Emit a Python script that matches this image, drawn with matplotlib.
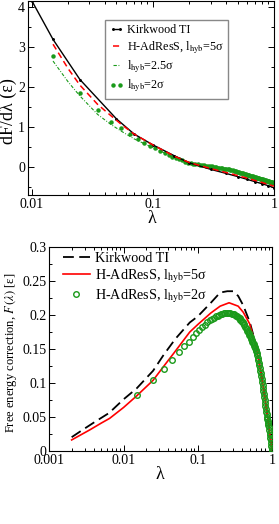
import matplotlib
matplotlib.use("Agg")
import matplotlib.pyplot as plt
from matplotlib.ticker import FixedLocator, FixedFormatter, LogLocator, NullFormatter, MultipleLocator

plt.rcParams['font.family'] = ['Liberation Serif', 'DejaVu Serif']
plt.rcParams['mathtext.fontset'] = 'stix'

# ---- top panel: dF/dlambda ----
lam_kw = [0.01, 0.015, 0.025, 0.05, 0.07, 0.1, 0.15, 0.2, 0.3, 0.4, 0.5, 0.6, 0.7, 0.8, 0.9, 1.0]
dfdl_kw = [4.15, 3.18, 2.18, 1.2, 0.82, 0.55, 0.28, 0.1, -0.06, -0.16, -0.24, -0.31, -0.37, -0.42, -0.47, -0.52]

lam_line = [0.015, 0.02, 0.025, 0.035, 0.045, 0.055, 0.07, 0.1, 0.15, 0.2, 0.3, 0.44, 0.6, 0.8, 1.0]
dfdl_5s = [3.06, 2.45, 2.04, 1.56, 1.28, 1.06, 0.82, 0.55, 0.27, 0.11, -0.04, -0.17, -0.28, -0.39, -0.48]
dfdl_25s = [2.64, 2.12, 1.77, 1.31, 1.06, 0.89, 0.70, 0.48, 0.24, 0.10, 0.01, -0.08, -0.19, -0.31, -0.42]

# lambda grid of the l_hyb = 2 sigma run (used in both panels)
lam_2s = [0.015, 0.025, 0.035, 0.045, 0.055, 0.065, 0.075, 0.085, 0.095, 0.105,
          0.115, 0.125, 0.135, 0.145, 0.155, 0.165, 0.175, 0.185, 0.195, 0.205,
          0.215, 0.225, 0.235, 0.245, 0.255, 0.265, 0.275, 0.285, 0.295, 0.305,
          0.315, 0.325, 0.335, 0.345, 0.355, 0.365, 0.375, 0.385, 0.395, 0.405,
          0.415, 0.425, 0.435, 0.445, 0.455, 0.465, 0.475, 0.485, 0.495, 0.505,
          0.515, 0.525, 0.535, 0.545, 0.555, 0.565, 0.575, 0.585, 0.595, 0.605,
          0.615, 0.625, 0.635, 0.645, 0.655, 0.665, 0.675, 0.685, 0.695, 0.705,
          0.715, 0.725, 0.735, 0.745, 0.755, 0.765, 0.775, 0.785, 0.795, 0.805,
          0.815, 0.825, 0.835, 0.845, 0.855, 0.865, 0.875, 0.885, 0.895, 0.905,
          0.915, 0.925, 0.935, 0.945, 0.955, 0.965, 0.975, 0.985, 0.995]

dfdl_2s = [2.77, 1.85, 1.42, 1.12, 0.96, 0.82, 0.69, 0.60, 0.53, 0.46,
           0.40, 0.34, 0.29, 0.25, 0.22, 0.19, 0.16, 0.135, 0.11, 0.095,
           0.083, 0.072, 0.062, 0.053, 0.045, 0.037, 0.030, 0.023, 0.017, 0.011,
           0.004, -0.002, -0.008, -0.015, -0.021, -0.027, -0.033, -0.040, -0.046, -0.052,
           -0.058, -0.064, -0.070, -0.076, -0.082, -0.091, -0.099, -0.108, -0.116, -0.124,
           -0.132, -0.140, -0.147, -0.155, -0.162, -0.169, -0.177, -0.184, -0.190, -0.197,
           -0.204, -0.210, -0.217, -0.223, -0.229, -0.235, -0.241, -0.247, -0.253, -0.259,
           -0.265, -0.270, -0.276, -0.281, -0.287, -0.292, -0.297, -0.302, -0.307, -0.312,
           -0.317, -0.322, -0.327, -0.332, -0.337, -0.341, -0.346, -0.351, -0.355, -0.360,
           -0.364, -0.369, -0.373, -0.377, -0.381, -0.386, -0.390, -0.394, -0.398]

# ---- bottom panel: F(lambda) ----
lam_kw_F = [0.002, 0.0028, 0.004, 0.0064, 0.01, 0.015, 0.025, 0.035, 0.05, 0.078, 0.1,
            0.15, 0.2, 0.25, 0.3, 0.35, 0.41, 0.5, 0.62, 0.75, 0.9, 1.0]
F_kw = [0.0203, 0.031, 0.042, 0.056, 0.076, 0.092, 0.118, 0.142, 0.165, 0.189, 0.198,
        0.218, 0.233, 0.235, 0.235, 0.228, 0.214, 0.190, 0.153, 0.100, 0.040, 0.0]

lam_5s_F = [0.002, 0.0035, 0.005, 0.0065, 0.01, 0.015, 0.025, 0.035, 0.05, 0.078, 0.1,
            0.15, 0.2, 0.264, 0.35, 0.41, 0.5, 0.62, 0.75, 0.9, 1.0]
F_5s = [0.0163, 0.031, 0.041, 0.048, 0.064, 0.081, 0.104, 0.125, 0.147, 0.175, 0.186,
        0.203, 0.213, 0.218, 0.213, 0.204, 0.187, 0.150, 0.100, 0.040, 0.0]

F_2s = [0.082, 0.105, 0.121, 0.134, 0.145, 0.154, 0.161, 0.167, 0.173, 0.178,
        0.182, 0.186, 0.189, 0.192, 0.194, 0.196, 0.198, 0.199, 0.200, 0.201,
        0.202, 0.2025, 0.203, 0.203, 0.203, 0.203, 0.2025, 0.202, 0.2015, 0.201,
        0.200, 0.199, 0.198, 0.197, 0.196, 0.195, 0.193, 0.192, 0.190, 0.189,
        0.187, 0.185, 0.183, 0.181, 0.179, 0.177, 0.175, 0.173, 0.171, 0.169,
        0.167, 0.165, 0.163, 0.161, 0.159, 0.157, 0.155, 0.153, 0.151, 0.149,
        0.147, 0.144, 0.141, 0.137, 0.134, 0.130, 0.126, 0.122, 0.118, 0.114,
        0.110, 0.106, 0.101, 0.097, 0.093, 0.088, 0.084, 0.080, 0.075, 0.071,
        0.066, 0.062, 0.058, 0.054, 0.050, 0.047, 0.044, 0.041, 0.038, 0.035,
        0.031, 0.027, 0.023, 0.019, 0.016, 0.012, 0.008, 0.005, 0.002]

GREEN = '#1a9a1a'
RED = '#ff0000'

fig = plt.figure(figsize=(2.79, 5.24), dpi=100)
ax1 = fig.add_axes([0.0993, 0.6279, 0.8827, 0.3711])
ax2 = fig.add_axes([0.1767, 0.1393, 0.7983, 0.3893])

# top
ax1.plot(lam_kw, dfdl_kw, color='black', lw=1.0, marker='o', ms=1.1, label='Kirkwood TI', zorder=3)
ax1.plot(lam_line, dfdl_5s, color=RED, lw=1.1, dashes=(4, 2.5), label=r'H-AdResS, l$_{\rm hyb}$=5σ', zorder=4)
ax1.plot(lam_line, dfdl_25s, color=GREEN, lw=0.8, dashes=(3, 1.5, 0.8, 1.5), label=r'l$_{\rm hyb}$=2.5σ', zorder=2)
ax1.plot(lam_2s, dfdl_2s, ls='none', marker='o', ms=2.2, color=GREEN, mec=GREEN, label=r'l$_{\rm hyb}$=2σ', zorder=2)

ax1.set_xscale('log')
ax1.set_xlim(0.00927, 1.0)
ax1.set_ylim(-0.7, 4.15)
ax1.xaxis.set_major_locator(FixedLocator([0.01, 0.1, 1.0]))
ax1.xaxis.set_major_formatter(FixedFormatter(['0.01', '0.1', '1']))
ax1.xaxis.set_minor_locator(LogLocator(base=10, subs=[2, 3, 4, 5, 6, 7, 8, 9], numticks=10))
ax1.xaxis.set_minor_formatter(NullFormatter())
ax1.yaxis.set_major_locator(MultipleLocator(1))
ax1.yaxis.set_minor_locator(MultipleLocator(0.5))
ax1.set_xlabel('λ', fontsize=13)
ax1.set_ylabel('dF/dλ (ε)', fontsize=13)
ax1.xaxis.set_label_coords(0.505, -0.078)
ax1.yaxis.set_label_coords(-0.044, 0.43)

leg1 = ax1.legend(loc='upper right', bbox_to_anchor=(0.813, 0.90), fontsize=8.7,
                  handlelength=1.2, handletextpad=0.3, labelspacing=0.25, borderpad=0.35,
                  borderaxespad=0, numpoints=2, fancybox=False, framealpha=1)
leg1.get_frame().set_edgecolor('#888888')
leg1.get_frame().set_linewidth(1.0)

# bottom
ax2.plot(lam_kw_F, F_kw, color='black', lw=1.3, dashes=(6, 3), label='Kirkwood TI', zorder=3)
ax2.plot(lam_5s_F, F_5s, color=RED, lw=1.2, label=r'H-AdResS, l$_{\rm hyb}$=5σ', zorder=3)
ax2.plot(lam_2s, F_2s, ls='none', marker='o', ms=4.0, mfc='none', mec=GREEN, mew=1.0,
         label=r'H-AdResS, l$_{\rm hyb}$=2σ', zorder=4)

ax2.set_xscale('log')
ax2.set_xlim(0.001, 1.0)
ax2.set_ylim(0, 0.3)
ax2.xaxis.set_major_locator(FixedLocator([0.001, 0.01, 0.1, 1.0]))
ax2.xaxis.set_major_formatter(FixedFormatter(['0.001', '0.01', '0.1', '1']))
ax2.xaxis.set_minor_locator(LogLocator(base=10, subs=[2, 3, 4, 5, 6, 7, 8, 9], numticks=10))
ax2.xaxis.set_minor_formatter(NullFormatter())
ax2.yaxis.set_major_locator(FixedLocator([0, 0.05, 0.1, 0.15, 0.2, 0.25, 0.3]))
ax2.yaxis.set_major_formatter(FixedFormatter(['0', '0.05', '0.1', '0.15', '0.2', '0.25', '0.3']))
ax2.yaxis.set_minor_locator(MultipleLocator(0.025))
ax2.set_xlabel('λ', fontsize=13)
ax2.set_ylabel(r'Free energy correction, $F\,(\lambda)$ [ε]', fontsize=9)
ax2.xaxis.set_label_coords(0.497, -0.075)
ax2.yaxis.set_label_coords(-0.135, 0.483)

ax2.legend(loc='upper left', bbox_to_anchor=(0.0615, 0.975), fontsize=10.2, frameon=False,
           handlelength=1.9, handletextpad=0.35, labelspacing=0.15, borderpad=0,
           borderaxespad=0, numpoints=1)

for ax in (ax1, ax2):
    for sp in ax.spines.values():
        sp.set_linewidth(0.8)
    ax.tick_params(which='both', direction='in', top=True, right=True, width=0.7, pad=2)
    ax.tick_params(which='major', length=4, labelsize=10)
    ax.tick_params(which='minor', length=2)

fig.savefig('out.png', dpi=100)
